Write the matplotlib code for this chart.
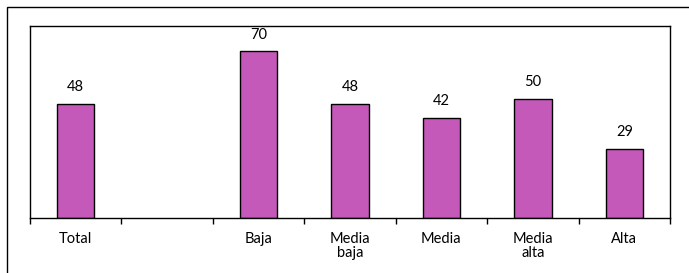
import numpy as np
import matplotlib
matplotlib.use("Agg")
import matplotlib.pyplot as plt
from matplotlib.patches import Rectangle

categories = ["Total", "", "Baja", "Media\nbaja", "Media", "Media\nalta", "Alta"]
values = [48, None, 70, 48, 42, 50, 29]

BAR_COLOR = "#C459BA"
plt.rcParams["font.family"] = ["Lato", "DejaVu Sans"]

fig = plt.figure(figsize=(6.89, 2.73), dpi=100)
# outer chart frame (runs off the right and bottom edges)
fig.patches.append(Rectangle((7 / 689, -0.05), 1.0, 1 - 7 / 273 + 0.05,
                             transform=fig.transFigure, fill=False,
                             edgecolor="black", lw=1.0))

ax = fig.add_axes([30 / 689, 1 - 218 / 273, 640 / 689, 192 / 273])
x = np.arange(len(categories))
for xi, v in zip(x, values):
    if v is None:
        continue
    ax.bar(xi, v, width=0.41, color=BAR_COLOR, edgecolor="black", lw=1.0)
    ax.text(xi, v + 4.0, f"{v}", ha="center", va="bottom", fontsize=10.5)

ax.set_xlim(-0.5, len(categories) - 0.5)
ax.set_ylim(0, 80.5)
ax.set_yticks([])
ax.set_xticks(x)
ax.set_xticklabels(categories, fontsize=10.5, linespacing=1.05, va="top")
ax.tick_params(axis="x", which="major", length=0, pad=10)
ax.set_xticks(np.arange(-0.5, len(categories)), minor=True)
ax.tick_params(axis="x", which="minor", length=4, width=1.0, direction="out")
for s in ax.spines.values():
    s.set_linewidth(1.0)

fig.savefig("out.png", dpi=100)
